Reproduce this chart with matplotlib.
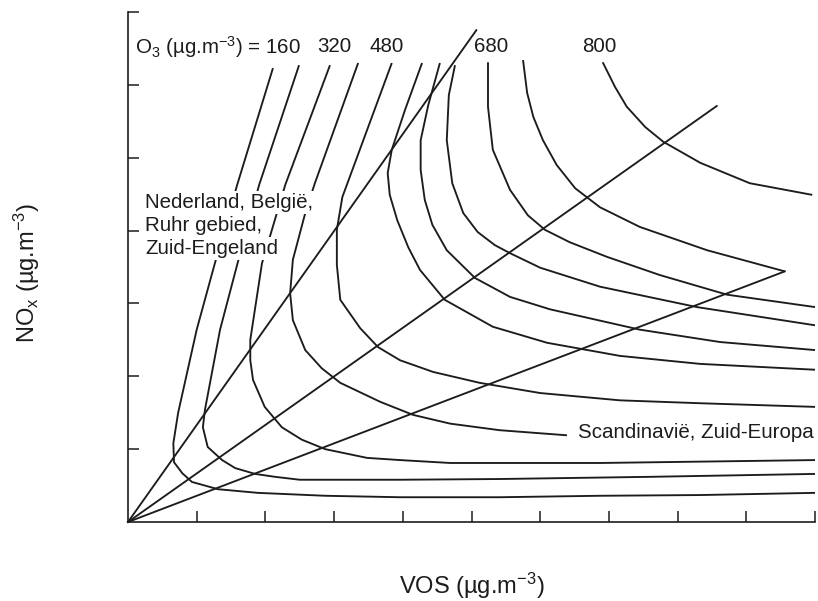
import matplotlib
matplotlib.use("Agg")
import matplotlib.pyplot as plt

plt.rcParams['font.family'] = ['Liberation Sans', 'DejaVu Sans']
plt.rcParams['mathtext.fontset'] = 'custom'
plt.rcParams['mathtext.rm'] = 'Liberation Sans'
plt.rcParams['mathtext.it'] = 'Liberation Sans:italic'
plt.rcParams['mathtext.default'] = 'regular'

# isopleten (O3): VOS (x) en NOx (y) in schaaldelen
vos_1 = [2.11, 1.59, 1.27, 1.00, 0.73, 0.66, 0.67, 0.79, 0.93, 1.31, 1.89, 2.87, 3.96, 5.41, 6.87, 8.33, 10.0]
nox_1 = [6.23, 4.63, 3.57, 2.64, 1.50, 1.08, 0.82, 0.67, 0.55, 0.45, 0.40, 0.36, 0.34, 0.34, 0.36, 0.37, 0.40]

vos_2 = [2.49, 1.91, 1.60, 1.34, 1.12, 1.09, 1.16, 1.37, 1.56, 1.85, 2.14, 2.50, 3.96, 5.41, 7.60, 10.0]
nox_2 = [6.27, 4.63, 3.57, 2.64, 1.54, 1.30, 1.03, 0.85, 0.74, 0.66, 0.62, 0.58, 0.58, 0.59, 0.62, 0.66]

vos_3 = [2.94, 2.29, 1.95, 1.78, 1.78, 1.82, 1.99, 2.24, 2.53, 2.87, 3.48, 3.96, 4.69, 6.87, 10.0]
nox_3 = [6.27, 4.63, 3.55, 2.50, 2.22, 1.95, 1.58, 1.30, 1.13, 1.00, 0.88, 0.85, 0.81, 0.81, 0.85]

vos_4 = [3.35, 2.72, 2.58, 2.40, 2.36, 2.40, 2.58, 2.82, 3.09, 3.67, 4.15, 4.69, 5.41, 6.39]
nox_4 = [6.30, 4.65, 4.24, 3.60, 3.14, 2.77, 2.36, 2.11, 1.91, 1.65, 1.47, 1.35, 1.26, 1.19]

vos_5 = [3.84, 3.12, 3.04, 3.04, 3.09, 3.38, 3.64, 3.96, 4.44, 5.12, 6.00, 7.16, 8.33, 10.0]
nox_5 = [6.30, 4.46, 4.01, 3.53, 3.05, 2.66, 2.40, 2.22, 2.06, 1.91, 1.77, 1.67, 1.63, 1.58]

vos_6 = [4.28, 4.03, 3.84, 3.78, 3.81, 3.92, 4.08, 4.25, 4.61, 5.31, 6.10, 7.16, 8.33, 10.0]
nox_6 = [6.30, 5.65, 5.11, 4.79, 4.49, 4.14, 3.77, 3.46, 3.05, 2.68, 2.46, 2.28, 2.17, 2.09]

vos_7 = [4.54, 4.37, 4.26, 4.26, 4.32, 4.43, 4.64, 5.05, 5.56, 6.14, 7.45, 8.62, 10.0]
nox_7 = [6.30, 5.72, 5.24, 4.83, 4.42, 4.08, 3.73, 3.35, 3.09, 2.92, 2.64, 2.47, 2.36]

vos_8 = [4.76, 4.67, 4.64, 4.72, 4.88, 5.09, 5.34, 5.56, 6.00, 6.87, 8.28, 10.0]
nox_8 = [6.27, 5.86, 5.24, 4.65, 4.24, 3.98, 3.80, 3.69, 3.49, 3.23, 2.95, 2.70]

vos_9 = [5.24, 5.24, 5.31, 5.56, 5.82, 6.07, 6.43, 6.97, 7.74, 8.72, 10.0]
nox_9 = [6.31, 5.70, 5.11, 4.56, 4.21, 4.01, 3.84, 3.64, 3.39, 3.12, 2.95]

vos_10 = [5.75, 5.81, 5.90, 6.04, 6.24, 6.51, 6.87, 7.45, 8.43, 9.56]
nox_10 = [6.34, 5.89, 5.56, 5.24, 4.90, 4.58, 4.32, 4.05, 3.73, 3.44]

vos_11 = [6.91, 7.09, 7.26, 7.53, 7.79, 8.33, 9.05, 9.96]
nox_11 = [6.31, 5.97, 5.70, 5.42, 5.22, 4.93, 4.65, 4.49]

isopleths = [(vos_1, nox_1), (vos_2, nox_2), (vos_3, nox_3), (vos_4, nox_4),
             (vos_5, nox_5), (vos_6, nox_6), (vos_7, nox_7), (vos_8, nox_8),
             (vos_9, nox_9), (vos_10, nox_10), (vos_11, nox_11)]

# eindpunten van de VOS/NOx-verhoudingslijnen (vanuit de oorsprong)
ray_vos = [5.07, 8.57, 9.56]
ray_nox = [6.75, 5.71, 3.44]

level_labels = ['O$_3$ (µg.m$^{-3}$) = 160', '320', '480', '680', '800']
level_label_x = [0.10, 3.00, 3.76, 5.29, 6.86]
level_label_ha = ['left', 'center', 'center', 'center', 'center']

region_nw = ['Nederland, België,', 'Ruhr gebied,', 'Zuid-Engeland']
region_s = 'Scandinavië, Zuid-Europa'

ink = '#1c1c1c'
fs = 14.8

fig = plt.figure(figsize=(8.18, 6.01), dpi=100)
ax = fig.add_axes([128 / 818, 79 / 601, 687 / 818, 510 / 601])

for vx, ny in isopleths:
    ax.plot(vx, ny, color=ink, lw=1.35, solid_joinstyle='round', solid_capstyle='butt', clip_on=False)

for rx, ry in zip(ray_vos, ray_nox):
    ax.plot([0, rx], [0, ry], color=ink, lw=1.35, clip_on=False)

for lab, lx, ha in zip(level_labels, level_label_x, level_label_ha):
    ax.text(lx, 6.52, lab, ha=ha, va='center', fontsize=fs, color=ink)

for i, line in enumerate(region_nw):
    ax.text(0.25, 4.39 - i * 0.315, line, ha='left', va='center', fontsize=fs, color=ink,
            zorder=5, bbox=dict(facecolor='white', edgecolor='none', pad=1.5))

ax.text(6.55, 1.235, region_s, ha='left', va='center', fontsize=fs, color=ink)

ax.set_xlim(0, 10)
ax.set_ylim(0, 7)
ax.set_xticks(range(1, 11))
ax.set_yticks(range(1, 8))
ax.tick_params(direction='in', length=8, width=1.1, colors=ink,
               labelbottom=False, labelleft=False)
for side in ['top', 'right']:
    ax.spines[side].set_visible(False)
for side in ['left', 'bottom']:
    ax.spines[side].set_linewidth(1.2)
    ax.spines[side].set_color(ink)

fig.text(472 / 818, 1 - 586 / 601, 'VOS (µg.m$^{-3}$)', ha='center', va='center', fontsize=17, color=ink)
fig.text(27 / 818, 1 - 273 / 601, 'NO$_x$ (µg.m$^{-3}$)', ha='center', va='center',
         rotation=90, fontsize=17, color=ink)

fig.savefig('out.png', dpi=100, facecolor='white')
